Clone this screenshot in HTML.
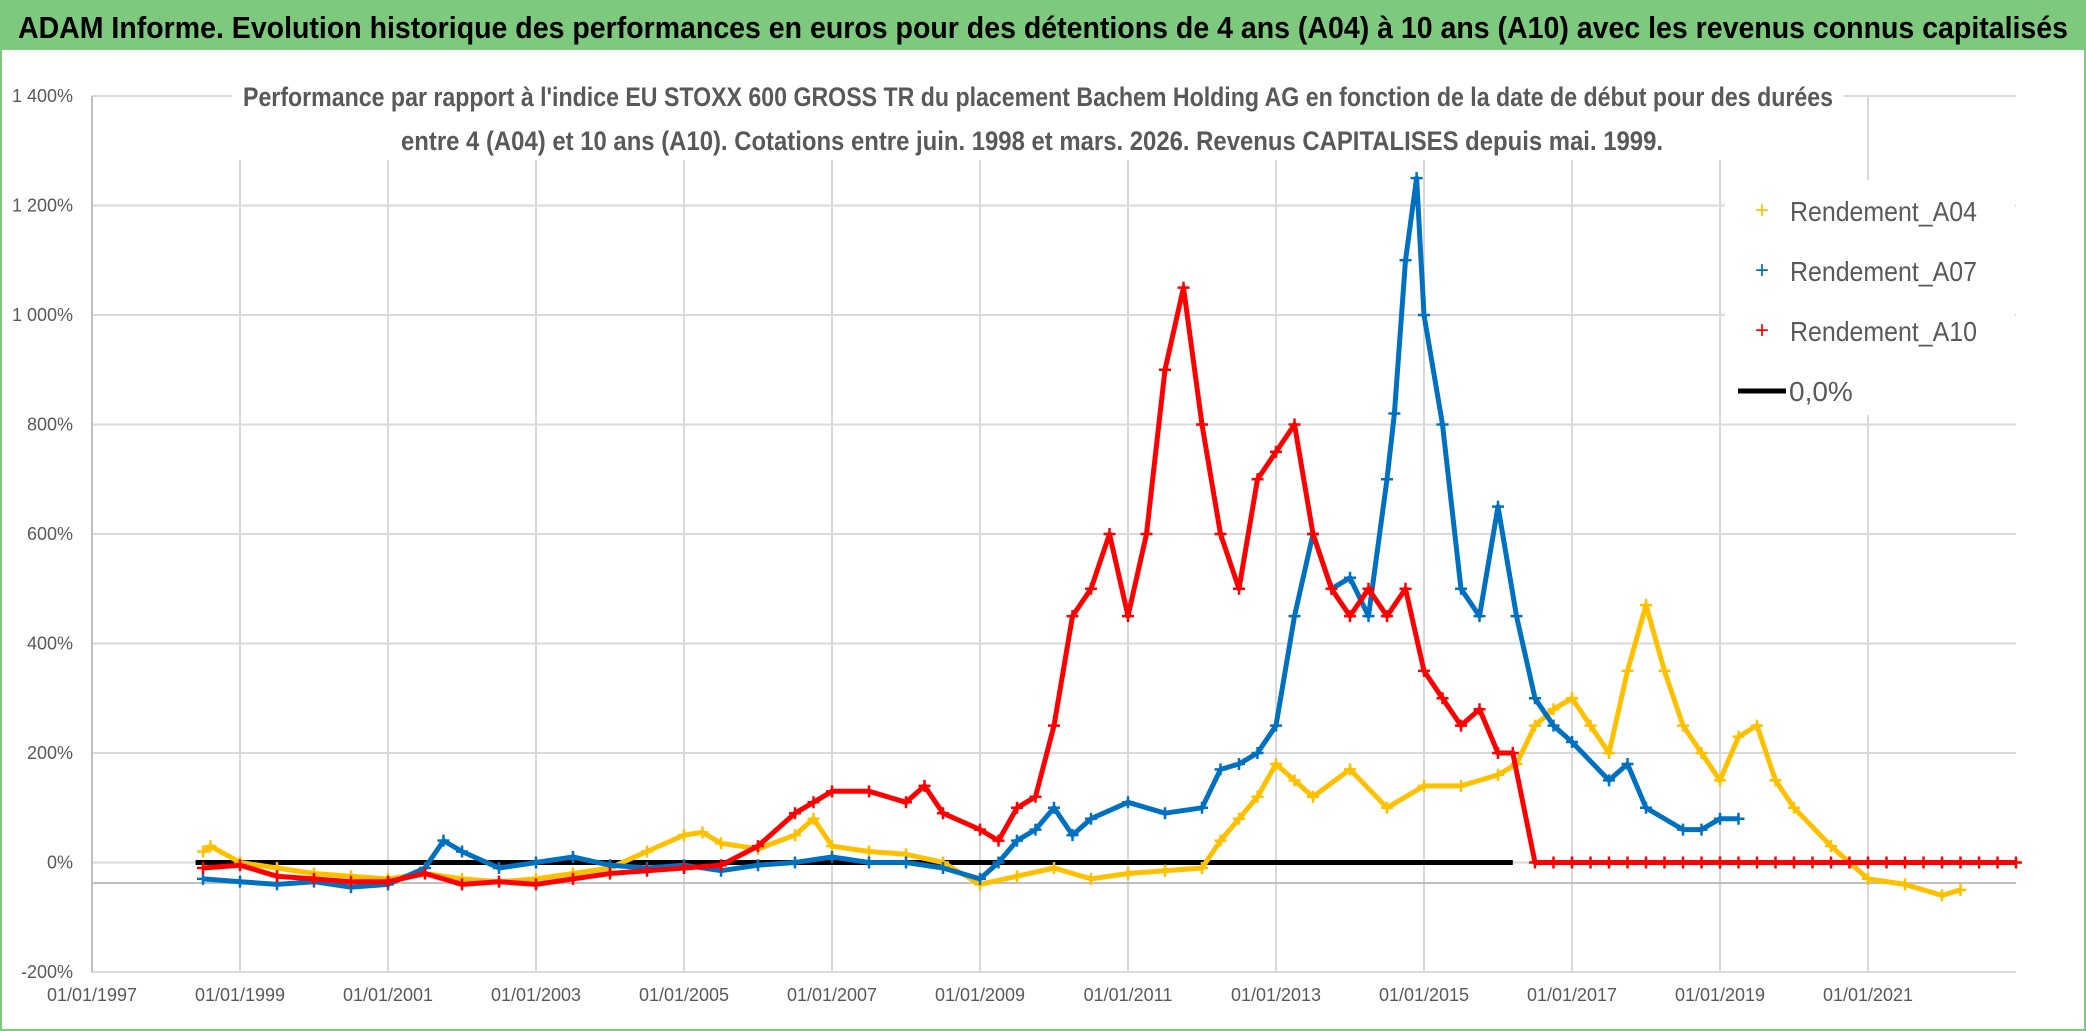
<!DOCTYPE html>
<html><head><meta charset="utf-8">
<style>
html,body{margin:0;padding:0;background:#fff;}
svg{display:block;font-family:"Liberation Sans Narrow","Liberation Sans",sans-serif;}
</style></head>
<body>
<svg id="chart" width="2086" height="1031" viewBox="0 0 2086 1031" xmlns="http://www.w3.org/2000/svg">
<rect x="0" y="0" width="2086" height="1031" fill="#fff"/>
<rect x="0" y="0" width="2086" height="50" fill="#7dc97d"/>
<rect x="1" y="1" width="2084" height="1029" fill="none" stroke="#7dc97d" stroke-width="2"/>
<text x="18" y="38" font-size="31" font-weight="bold" fill="#000" textLength="2050" lengthAdjust="spacingAndGlyphs">ADAM Informe. Evolution historique des performances en euros pour des détentions de 4 ans (A04) à 10 ans (A10) avec les revenus connus capitalisés</text>
<g id="grid"></g>
<rect x="232" y="78" width="1612" height="82" fill="#fff"/>
<text x="1038" y="106" font-size="27" font-weight="bold" fill="#595959" text-anchor="middle" textLength="1590" lengthAdjust="spacingAndGlyphs">Performance  par rapport à l'indice EU STOXX 600 GROSS TR  du placement Bachem Holding AG en fonction de la date de début pour des durées</text>
<text x="1032" y="150" font-size="27" font-weight="bold" fill="#595959" text-anchor="middle" textLength="1262" lengthAdjust="spacingAndGlyphs">entre 4 (A04) et 10 ans (A10). Cotations entre juin. 1998 et mars. 2026. Revenus CAPITALISES depuis mai. 1999.</text>
<g id="series"></g>
<g id="legend">
  <rect x="1725" y="180" width="290" height="235" fill="#fff"/>
  <text x="1762" y="218" font-size="24" fill="#ffc000" text-anchor="middle">+</text>
  <text x="1790" y="221" font-size="28" fill="#595959" textLength="187" lengthAdjust="spacingAndGlyphs">Rendement_A04</text>
  <text x="1762" y="278" font-size="24" fill="#0070c0" text-anchor="middle">+</text>
  <text x="1790" y="281" font-size="28" fill="#595959" textLength="187" lengthAdjust="spacingAndGlyphs">Rendement_A07</text>
  <text x="1762" y="338" font-size="24" fill="#ff0000" text-anchor="middle">+</text>
  <text x="1790" y="341" font-size="28" fill="#595959" textLength="187" lengthAdjust="spacingAndGlyphs">Rendement_A10</text>
  <line x1="1738" y1="391" x2="1786" y2="391" stroke="#000" stroke-width="5"/>
  <text x="1789" y="401" font-size="28" fill="#595959">0,0%</text>
</g>
</svg>
<script>
const yTicks = [-200, 0, 200, 400, 600, 800, 1000, 1200, 1400];
const yTickLabels = ["-200%", "0%", "200%", "400%", "600%", "800%", "1 000%", "1 200%", "1 400%"];
const xTicks = [1997, 1999, 2001, 2003, 2005, 2007, 2009, 2011, 2013, 2015, 2017, 2019, 2021];
const xTickLabels = ["01/01/1997","01/01/1999","01/01/2001","01/01/2003","01/01/2005","01/01/2007","01/01/2009","01/01/2011","01/01/2013","01/01/2015","01/01/2017","01/01/2019","01/01/2021"];

const a04Dates = [1998.5,1998.6,1999,1999.5,2000,2000.5,2001,2001.5,2002,2002.5,2003,2003.5,2004,2004.5,2005,2005.25,2005.5,2006,2006.5,2006.75,2007,2007.5,2008,2008.5,2009,2009.5,2010,2010.5,2011,2011.5,2012,2012.25,2012.5,2012.75,2013,2013.25,2013.5,2014,2014.5,2015,2015.5,2016,2016.25,2016.5,2016.75,2017,2017.25,2017.5,2017.75,2018,2018.25,2018.5,2018.75,2019,2019.25,2019.5,2019.75,2020,2020.5,2020.75,2021,2021.5,2022,2022.25];
const a04Values = [20,30,0,-10,-20,-25,-30,-20,-30,-35,-30,-20,-10,20,50,55,35,25,50,80,30,20,15,0,-40,-25,-10,-30,-20,-15,-10,40,80,120,180,150,120,170,100,140,140,160,180,250,280,300,250,200,350,470,350,250,200,150,230,250,150,100,30,0,-30,-40,-60,-50];

const a07Dates = [1998.5,1999,1999.5,2000,2000.5,2001,2001.5,2001.75,2002,2002.5,2003,2003.5,2004,2004.5,2005,2005.5,2006,2006.5,2007,2007.5,2008,2008.5,2009,2009.25,2009.5,2009.75,2010,2010.25,2010.5,2011,2011.5,2012,2012.25,2012.5,2012.75,2013,2013.25,2013.5,2013.75,2014,2014.25,2014.5,2014.6,2014.75,2014.9,2015,2015.25,2015.5,2015.75,2016,2016.25,2016.5,2016.75,2017,2017.5,2017.75,2018,2018.5,2018.75,2019,2019.25];
const a07Values = [-30,-35,-40,-35,-45,-40,-10,40,20,-10,0,10,-5,-10,-5,-15,-5,0,10,0,0,-10,-30,0,40,60,100,50,80,110,90,100,170,180,200,250,450,600,500,520,450,700,820,1100,1250,1000,800,500,450,650,450,300,250,220,150,180,100,60,60,80,80];

const a10Dates = [1998.5,1999,1999.5,2000,2000.5,2001,2001.5,2002,2002.5,2003,2003.5,2004,2004.5,2005,2005.5,2006,2006.5,2006.75,2007,2007.5,2008,2008.25,2008.5,2009,2009.25,2009.5,2009.75,2010,2010.25,2010.5,2010.75,2011,2011.25,2011.5,2011.75,2012,2012.25,2012.5,2012.75,2013,2013.25,2013.5,2013.75,2014,2014.25,2014.5,2014.75,2015,2015.25,2015.5,2015.75,2016,2016.2,2016.5,2016.75,2017,2017.25,2017.5,2017.75,2018,2018.25,2018.5,2018.75,2019,2019.25,2019.5,2019.75,2020,2020.25,2020.5,2020.75,2021,2021.25,2021.5,2021.75,2022,2022.25,2022.5,2022.75,2023];
const a10Values = [-10,-5,-25,-30,-35,-35,-20,-40,-35,-40,-30,-20,-15,-10,-5,30,90,110,130,130,110,140,90,60,40,100,120,250,450,500,600,450,600,900,1050,800,600,500,700,750,800,600,500,450,500,450,500,350,300,250,280,200,200,0,0,0,0,0,0,0,0,0,0,0,0,0,0,0,0,0,0,0,0,0,0,0,0,0,0,0];

const zeroLineDates = [1998.4, 2016.2];
const zeroLineValues = [0, 0];

const X0 = 92, XPY = 74, Y0 = 862.5, YPP = 0.5475;
function xs(t){ return X0 + (t - 1997) * XPY; }
function ys(v){ return Y0 - v * YPP; }
const NS = "http://www.w3.org/2000/svg";
const grid = document.getElementById('grid');
const ser = document.getElementById('series');
function mk(tag, attrs, parent){ const e = document.createElementNS(NS, tag); for (const k in attrs) e.setAttribute(k, attrs[k]); parent.appendChild(e); return e; }

const plotL = xs(1997), plotR = xs(2023), plotT = ys(1400), plotB = ys(-200);
yTicks.forEach((v, i) => {
  const l = mk('line', {x1: plotL, x2: plotR, y1: ys(v), y2: ys(v), stroke: '#d9d9d9', 'stroke-width': 2}, grid);
  
  
  const t = mk('text', {x: 73, y: ys(v) + 6, 'font-size': 18, fill: '#595959', 'text-anchor': 'end'}, grid);
  t.textContent = yTickLabels[i];
  
  
});
xTicks.forEach((y, i) => {
  const l = mk('line', {x1: xs(y), x2: xs(y), y1: plotT, y2: plotB, stroke: '#d9d9d9', 'stroke-width': 2}, grid);
  
  
  const t = mk('text', {x: xs(y), y: 1001, 'font-size': 18, fill: '#595959', 'text-anchor': 'middle'}, grid);
  t.textContent = xTickLabels[i];
  
  
});
const ax = mk('line', {x1: plotL, x2: plotR, y1: 883, y2: 883, stroke: '#bfbfbf', 'stroke-width': 2}, grid);


const ay = mk('line', {x1: plotL, x2: plotL, y1: plotT, y2: plotB, stroke: '#bfbfbf', 'stroke-width': 2}, grid);



function drawSeries(dates, vals, color, name){
  const g = mk('g', {}, ser);
  
  
  const pts = dates.map((d, i) => xs(d).toFixed(1) + ',' + ys(vals[i]).toFixed(1)).join(' ');
  const pl = mk('polyline', {points: pts, fill: 'none', stroke: color, 'stroke-width': 5, 'stroke-linejoin': 'round'}, g);
  
  
  dates.forEach((d, i) => {
    const x = xs(d), y = ys(vals[i]);
    const p = mk('path', {d: `M${x-6},${y}H${x+6}M${x},${y-6}V${y+6}`, stroke: color, 'stroke-width': 2.5, fill: 'none'}, g);
    
    
  });
}
const zl = mk('polyline', {points: zeroLineDates.map((d, i) => xs(d) + ',' + ys(zeroLineValues[i])).join(' '), stroke: '#000', 'stroke-width': 5, fill: 'none'}, ser);


drawSeries(a04Dates, a04Values, '#ffc000', 'series-a04');
drawSeries(a07Dates, a07Values, '#0070c0', 'series-a07');
drawSeries(a10Dates, a10Values, '#ff0000', 'series-a10');
</script>
</body></html>
